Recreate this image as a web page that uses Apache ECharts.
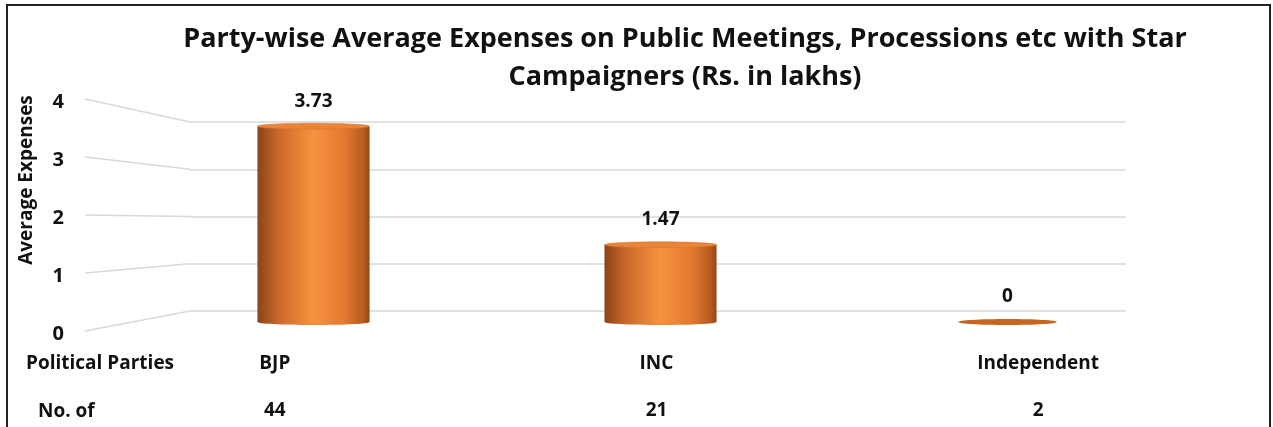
<!DOCTYPE html>
<html>
<head>
<meta charset="utf-8">
<script src="https://cdn.jsdelivr.net/npm/echarts@6/dist/echarts.min.js"></script>
<style>
  html, body { margin: 0; padding: 0; background: #fff; }
  #chart { width: 1273px; height: 427px; }
</style>
</head>
<body>
<div id="chart"></div>
<script>
// data
const parties = ['BJP', 'INC', 'Independent'];
const avgExpenses = [3.73, 1.47, 0];
const noOfCandidates = ['44', '21', '2'];
const yTicks = [0, 1, 2, 3, 4];

const FONT = 'Open Sans';
const chart = echarts.init(document.getElementById('chart'));

// cylinder look
const bodyGrad = new echarts.graphic.LinearGradient(0, 0, 1, 0, [
  { offset: 0, color: '#8a4416' },
  { offset: 0.18, color: '#c8672a' },
  { offset: 0.5, color: '#f7933f' },
  { offset: 0.78, color: '#e2792f' },
  { offset: 0.95, color: '#b55a20' },
  { offset: 1, color: '#8f4717' }
]);

function renderCylinder(params, api) {
  const v = api.value(1);
  const base = api.coord([api.value(0), 0]);
  const top = api.coord([api.value(0), v]);
  const w = api.size([1, 0])[0] * 0.323;
  const x = base[0] - w / 2;
  const ry = 3;
  const children = [];
  if (v > 0) {
    children.push({
      type: 'rect',
      shape: { x: x, y: top[1], width: w, height: base[1] - top[1] },
      style: { fill: bodyGrad }
    });
    children.push({
      type: 'ellipse',
      shape: { cx: base[0], cy: base[1], rx: w / 2, ry: ry },
      style: { fill: bodyGrad }
    });
    children.push({
      type: 'ellipse',
      shape: { cx: top[0], cy: top[1], rx: w / 2, ry: ry },
      style: { fill: '#e98536', stroke: '#d27030', lineWidth: 0.5 }
    });
  } else {
    children.push({
      type: 'ellipse',
      shape: { cx: base[0], cy: base[1], rx: w * 0.44, ry: 3 },
      style: { fill: '#c5651f' }
    });
  }
  children.push({
    type: 'text',
    style: {
      text: String(v), x: top[0], y: top[1] - 25,
      align: 'center', verticalAlign: 'middle',
      font: 'bold 19px ' + FONT, fill: '#111'
    }
  });
  return { type: 'group', children: children };
}

const option = {
  backgroundColor: '#fff',
  animation: false,
  title: {
    text: 'Party-wise Average Expenses on Public Meetings, Processions etc with Star\nCampaigners (Rs. in lakhs)',
    left: 680, top: 15, textAlign: 'center',
    textStyle: { fontFamily: FONT, fontWeight: 'bold', fontSize: 27, lineHeight: 38, color: '#111' }
  },
  grid: [
    { left: 85, width: 105, top: 102, bottom: 93 },        // front axis
    { left: 190, right: 147, top: 122, bottom: 116 },     // back wall
    { left: 140, right: 92, top: 112, bottom: 105 },      // bars
    { left: 84, right: 44, top: 340, bottom: 73 }         // table rows
  ],
  xAxis: [
    { gridIndex: 0, type: 'value', min: 0, max: 1, show: false },
    { gridIndex: 1, type: 'value', min: 0, max: 1, show: false },
    { gridIndex: 2, type: 'category', data: parties, show: false },
    {
      gridIndex: 3, type: 'category', data: parties, position: 'bottom',
      axisLine: { show: false }, axisTick: { show: false },
      axisLabel: { margin: 0, fontFamily: FONT, fontWeight: 'bold', fontSize: 19, color: '#111' }
    },
    {
      gridIndex: 3, type: 'category', data: noOfCandidates, position: 'bottom', offset: 47,
      axisLine: { show: false }, axisTick: { show: false },
      axisLabel: { margin: 0, fontFamily: FONT, fontWeight: 'bold', fontSize: 19, color: '#111' }
    }
  ],
  yAxis: [
    {
      gridIndex: 0, type: 'value', min: 0, max: 4, interval: 1,
      axisLine: { show: false }, axisTick: { show: false }, splitLine: { show: false },
      axisLabel: { margin: 21, fontFamily: FONT, fontWeight: 'bold', fontSize: 20, color: '#111' }
    },
    {
      gridIndex: 1, type: 'value', min: 0, max: 4, interval: 1,
      axisLine: { show: false }, axisTick: { show: false }, axisLabel: { show: false },
      splitLine: { lineStyle: { color: '#d9d9d9', width: 1.5 } }
    },
    { gridIndex: 2, type: 'value', min: 0, max: 4, show: false },
    { gridIndex: 3, type: 'value', show: false }
  ],
  graphic: [],
  series: [
    {
      type: 'custom', xAxisIndex: 2, yAxisIndex: 2,
      renderItem: renderCylinder,
      data: parties.map((p, i) => [i, avgExpenses[i]])
    }
  ]
};

chart.setOption(option);

// side-wall lines: front axis ticks joined to back wall ticks
const sideLines = yTicks.map(v => {
  const f = chart.convertToPixel({ gridIndex: 0 }, [0, v]);
  const b = chart.convertToPixel({ gridIndex: 1 }, [0, v]);
  return {
    type: 'line', silent: true,
    shape: { x1: f[0], y1: f[1] - 3, x2: b[0], y2: b[1] },
    style: { stroke: '#d9d9d9', lineWidth: 1.5 }
  };
});

chart.setOption({
  graphic: sideLines.concat([
    {
      type: 'text', x: 27, y: 180, rotation: Math.PI / 2,
      style: {
        text: 'Average Expenses', font: 'bold 19px ' + FONT, fill: '#111',
        align: 'center', verticalAlign: 'middle'
      }
    },
    {
      type: 'text', left: 26, top: 354,
      style: { text: 'Political Parties', font: 'bold 19px ' + FONT, fill: '#111' }
    },
    {
      type: 'text', left: 38, top: 402,
      style: { text: 'No. of', font: 'bold 19px ' + FONT, fill: '#111' }
    },
    {
      type: 'rect', silent: true,
      shape: { x: 7, y: 5, width: 1263, height: 440 },
      style: { fill: 'none', stroke: '#222', lineWidth: 2 }
    }
  ])
});
</script>
</body>
</html>
